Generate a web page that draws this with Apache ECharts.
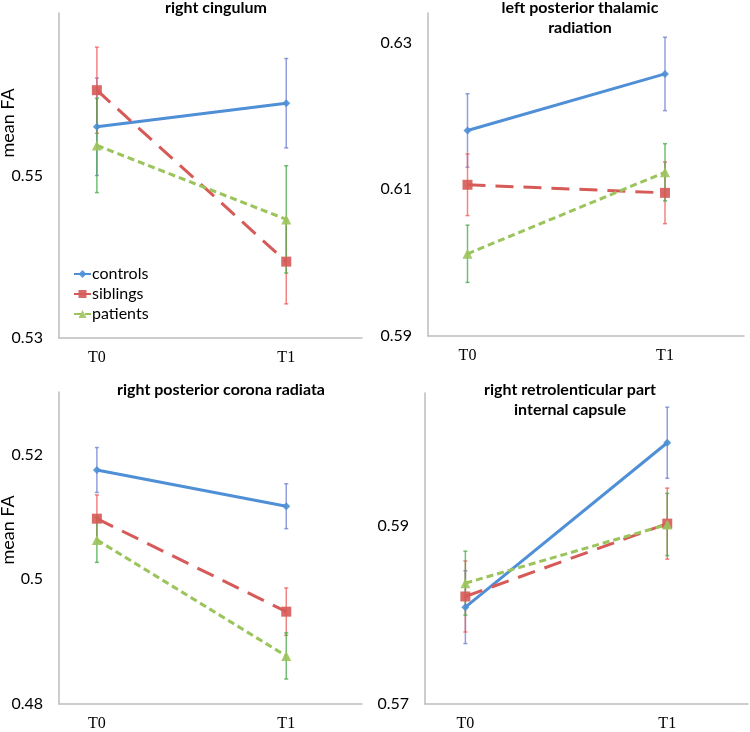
<!DOCTYPE html>
<html>
<head>
<meta charset="utf-8">
<script src="https://cdn.jsdelivr.net/npm/echarts@6/dist/echarts.min.js"></script>
<style>
  html, body { margin: 0; padding: 0; background: #fff; }
  #chart { width: 750px; height: 732px; }
</style>
</head>
<body>
<div id="chart"></div>
<script>
// time points and groups
const timepoints = ['T0', 'T1'];
const groups = ['controls', 'siblings', 'patients'];

// mean FA per group [T0, T1], and error bar half-widths
const cingulumMean = [[0.5560, 0.5589], [0.5605, 0.5394], [0.5537, 0.5446]];
const cingulumErr = [[0.0060, 0.0055], [0.0053, 0.0052], [0.0058, 0.0066]];

const thalamicMean = [[0.6180, 0.6257], [0.6106, 0.6095], [0.6012, 0.6123]];
const thalamicErr = [[0.0050, 0.0050], [0.0042, 0.0042], [0.0039, 0.0039]];

const coronaMean = [[0.5175, 0.5117], [0.5097, 0.4948], [0.5063, 0.4877]];
const coronaErr = [[0.0036, 0.0036], [0.0038, 0.0038], [0.0036, 0.0037]];

const capsuleMean = [[0.5809, 0.5994], [0.5821, 0.5903], [0.5836, 0.5902]];
const capsuleErr = [[0.0041, 0.0040], [0.0040, 0.0040], [0.0036, 0.0035]];

// y axis ranges
const yMins = [0.53, 0.59, 0.48, 0.57];
const yMaxs = [0.57, 0.634, 0.53, 0.605];
const yStep = [0.02, 0.02, 0.02, 0.02];

const titles = [
  'right cingulum',
  'left posterior thalamic\nradiation',
  'right posterior corona radiata',
  'right retrolenticular part\ninternal capsule'
];

const panels = [
  { mean: cingulumMean, err: cingulumErr },
  { mean: thalamicMean, err: thalamicErr },
  { mean: coronaMean, err: coronaErr },
  { mean: capsuleMean, err: capsuleErr }
];

const lineColors = ['#4f8fd6', '#d65a57', '#9cc45c'];
const errColors = ['#6f7fd0', '#f05a5a', '#45a845'];
const symbols = ['diamond', 'rect', 'triangle'];
const symbolSizes = [8, 10, 10];
const dashes = ['solid', [18, 10], [7, 4]];

const grids = [
  { left: 59, top: 13, width: 303, height: 325 },
  { left: 428, top: 13, width: 316, height: 323 },
  { left: 59, top: 392, width: 303, height: 314 },
  { left: 425, top: 393, width: 323, height: 311 }
];

const titlePos = [
  { x: 211, y: -7 },
  { x: 575, y: -7 },
  { x: 216, y: 375 },
  { x: 565, y: 375 }
];

const chart = echarts.init(document.getElementById('chart'));

const xAxes = grids.map((g, i) => ({
  type: 'value',
  gridIndex: i,
  min: -0.2,
  max: 1.4,
  splitLine: { show: false },
  axisTick: { show: false },
  axisLine: { onZero: false, lineStyle: { color: '#bdbdbd', width: 1.5 } },
  axisLabel: {
    customValues: [0, 1],
    formatter: v => timepoints[Math.round(v)],
    margin: 12,
    fontFamily: 'Liberation Serif',
    fontSize: 16,
    color: '#000'
  }
}));

const yAxes = grids.map((g, i) => ({
  type: 'value',
  gridIndex: i,
  min: yMins[i],
  max: yMaxs[i],
  interval: yStep[i],
  splitLine: { show: false },
  axisTick: { show: false },
  axisLine: { show: true, onZero: false, lineStyle: { color: '#bdbdbd', width: 1.5 } },
  axisLabel: {
    showMaxLabel: yMaxs[i] === yMins[i] + 2 * yStep[i] ? true : false,
    margin: 16,
    fontFamily: 'Lato',
    fontSize: 16,
    color: '#000',
    formatter: v => String(Math.round(v * 1000) / 1000)
  }
}));

function errorBar(params, api) {
  const x = api.value(0);
  const top = api.coord([x, api.value(2)]);
  const bot = api.coord([x, api.value(1)]);
  const style = api.style({ stroke: api.visual('color'), lineWidth: 1.5, fill: null });
  const cap = 2;
  return {
    type: 'group',
    children: [
      { type: 'line', shape: { x1: top[0], y1: top[1], x2: bot[0], y2: bot[1] }, style: style },
      { type: 'line', shape: { x1: top[0] - cap, y1: top[1], x2: top[0] + cap, y2: top[1] }, style: style },
      { type: 'line', shape: { x1: bot[0] - cap, y1: bot[1], x2: bot[0] + cap, y2: bot[1] }, style: style }
    ]
  };
}

const series = [];
panels.forEach((p, pi) => {
  groups.forEach((name, gi) => {
    series.push({
      name: name + ' error',
      type: 'custom',
      xAxisIndex: pi,
      yAxisIndex: pi,
      renderItem: errorBar,
      itemStyle: { color: errColors[gi], opacity: 0.75 },
      encode: { x: 0, y: [1, 2] },
      z: 1,
      data: timepoints.map((t, ti) => [ti, p.mean[gi][ti] - p.err[gi][ti], p.mean[gi][ti] + p.err[gi][ti]])
    });
  });
});
panels.forEach((p, pi) => {
  groups.forEach((name, gi) => {
    series.push({
      name: name,
      type: 'line',
      xAxisIndex: pi,
      yAxisIndex: pi,
      symbol: symbols[gi],
      symbolSize: symbolSizes[gi],
      showAllSymbol: true,
      color: lineColors[gi],
      lineStyle: { width: 3, type: dashes[gi] },
      itemStyle: { color: lineColors[gi], opacity: 0.9 },
      z: 3,
      data: timepoints.map((t, ti) => [ti, p.mean[gi][ti]])
    });
  });
});

chart.setOption({
  animation: false,
  textStyle: { fontFamily: 'Lato' },
  title: titles.map((t, i) => ({
    text: t,
    left: titlePos[i].x,
    top: titlePos[i].y,
    textAlign: 'center',
    textStyle: { fontFamily: 'Lato', fontSize: 16, fontWeight: 'bold', color: '#000', lineHeight: 20 }
  })),
  legend: {
    data: groups,
    orient: 'vertical',
    left: 68,
    top: 261,
    itemWidth: 17,
    itemHeight: 10,
    itemGap: 4,
    textStyle: { fontFamily: 'Lato', fontSize: 16, color: '#000', padding: [0, 0, 0, -4] }
  },
  grid: grids,
  xAxis: xAxes,
  yAxis: yAxes,
  graphic: [
    { type: 'text', x: 8, y: 123, rotation: Math.PI / 2,
      style: { text: 'mean FA', align: 'center', verticalAlign: 'middle', fontFamily: 'Lato', fontSize: 18, fill: '#000' } },
    { type: 'text', x: 8, y: 530, rotation: Math.PI / 2,
      style: { text: 'mean FA', align: 'center', verticalAlign: 'middle', fontFamily: 'Lato', fontSize: 18, fill: '#000' } }
  ],
  series: series
});
</script>
</body>
</html>
